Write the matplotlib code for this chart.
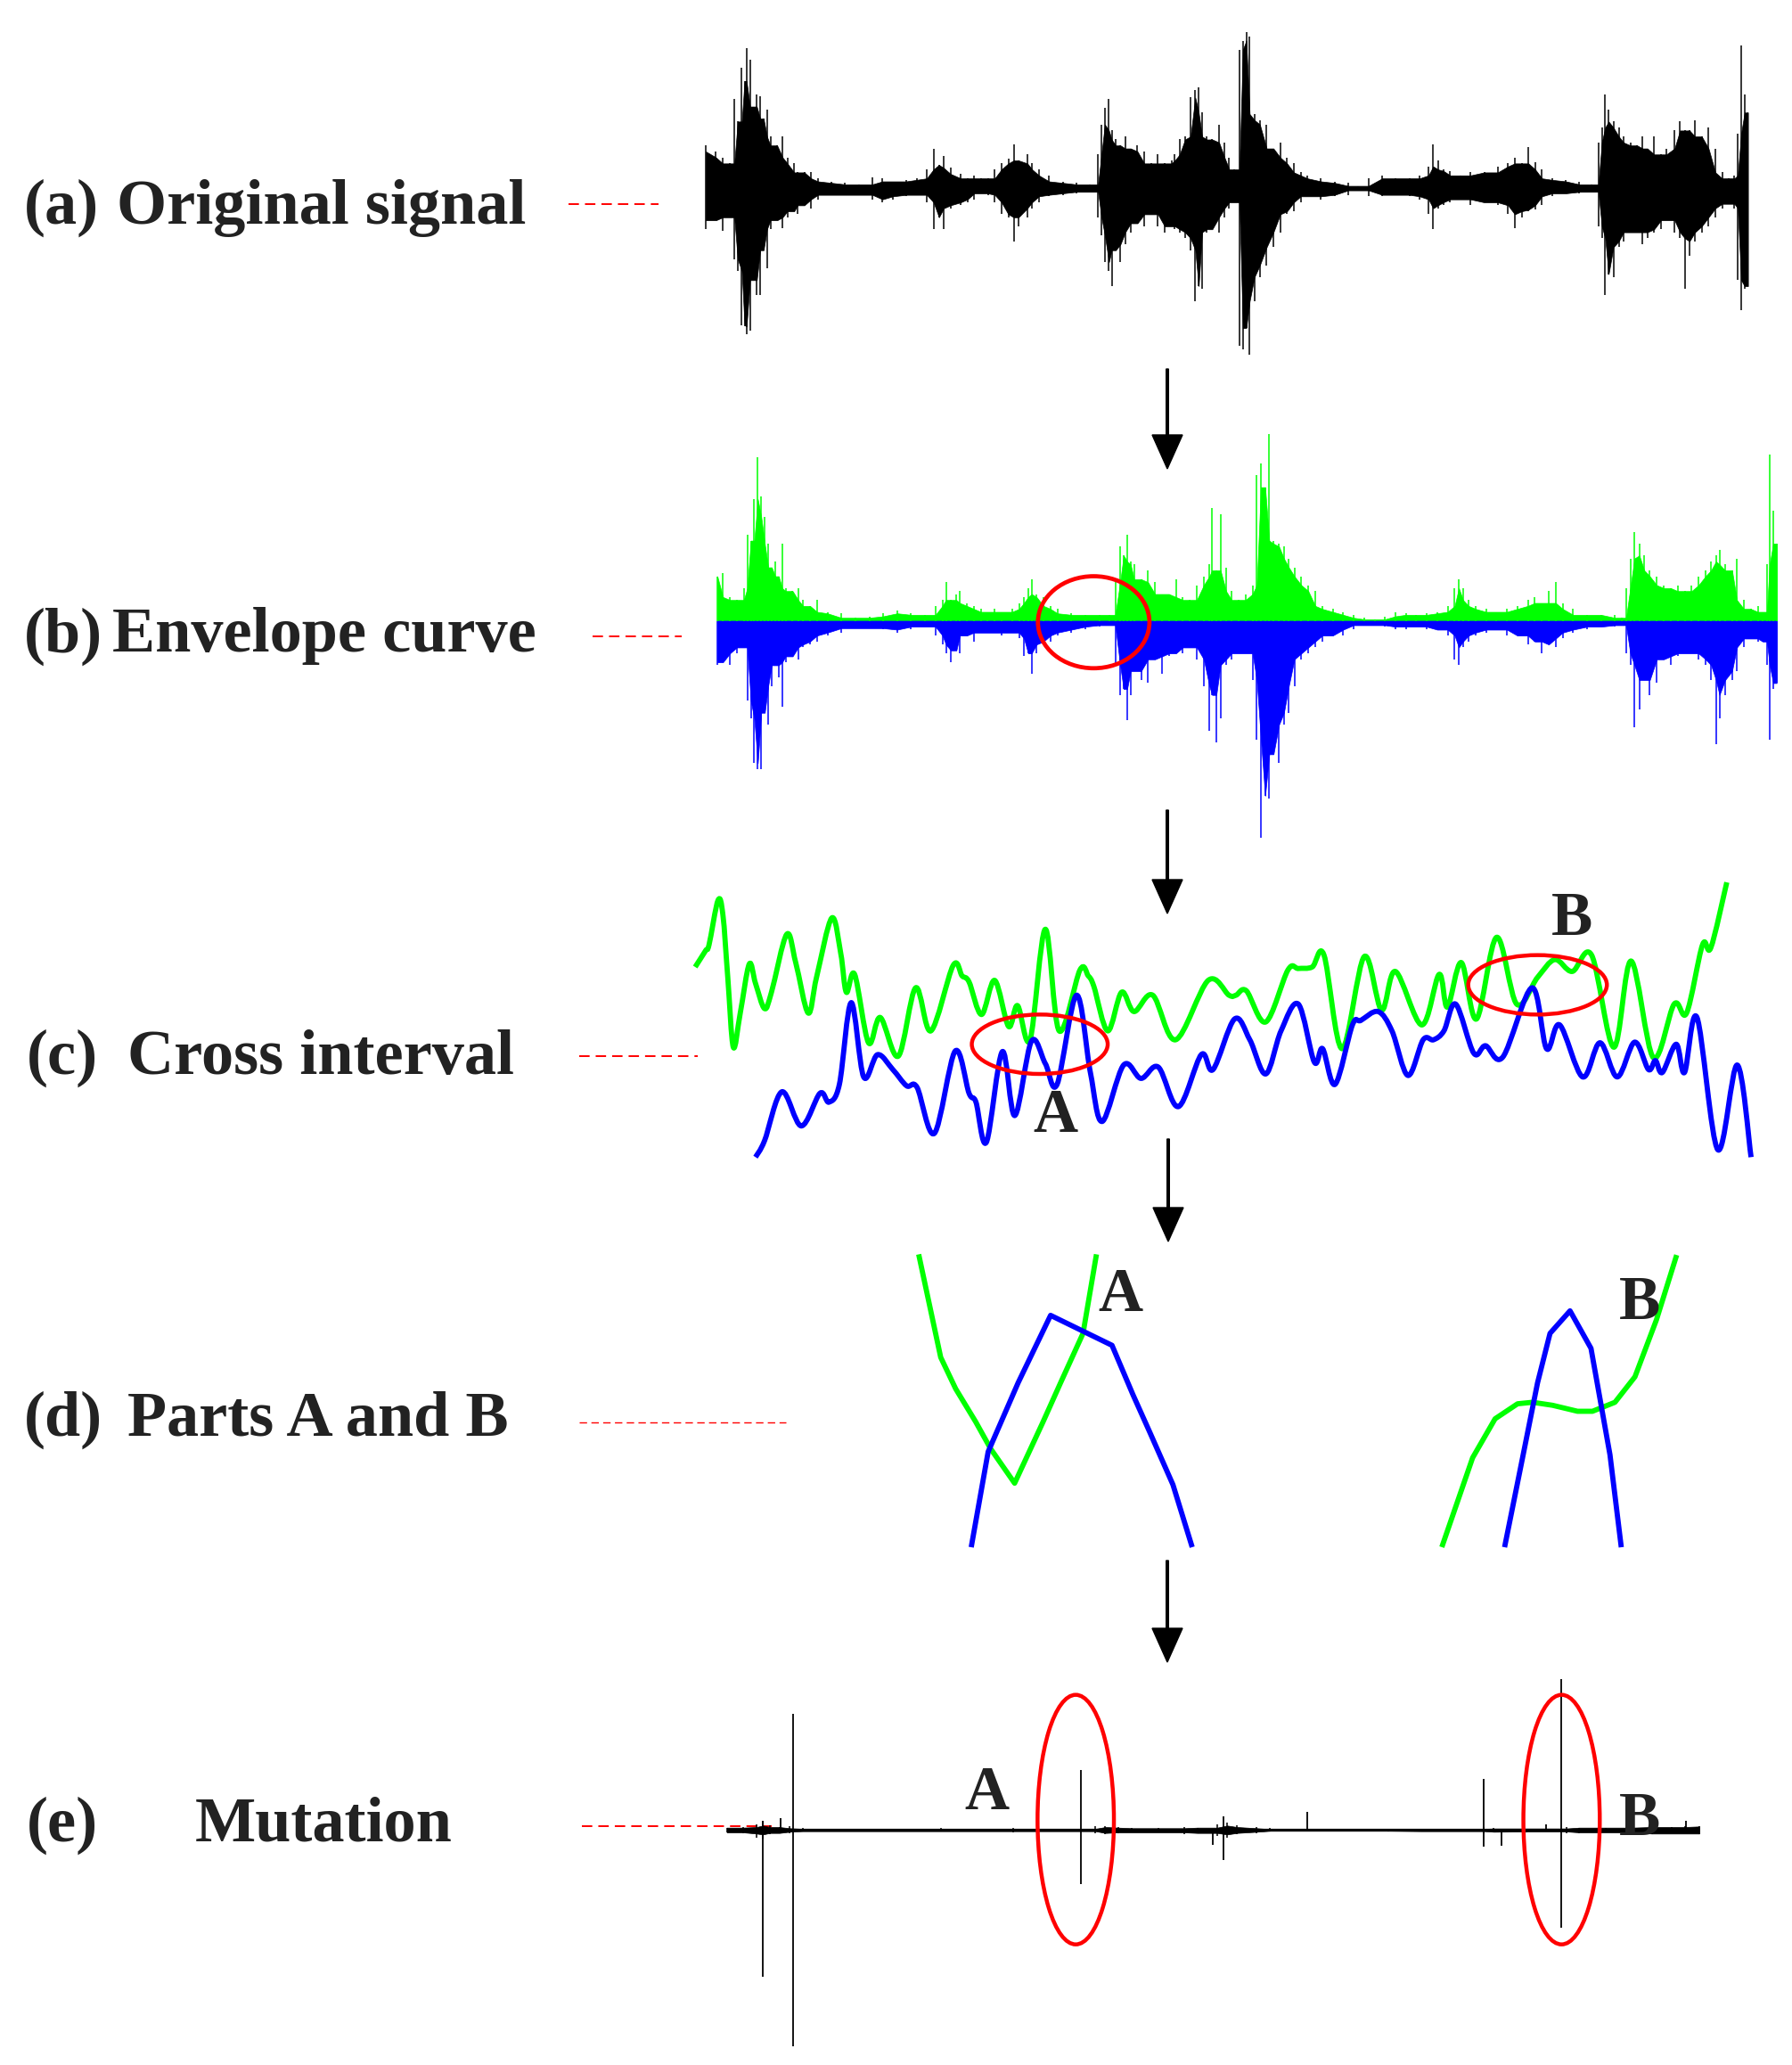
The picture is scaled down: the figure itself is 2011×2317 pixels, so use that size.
import numpy as np
import matplotlib
matplotlib.use("Agg")
import matplotlib.pyplot as plt
from matplotlib.patches import Ellipse, PathPatch
from matplotlib.path import Path

W, H = 2011, 2317
GREEN, BLUE, RED, INK = "#00ff00", "#0000ff", "#ff0000", "#222222"
SERIF = ["Liberation Serif", "DejaVu Serif"]

# ---------------- values ----------------
# (a) original signal: time index, upper / lower extent of the trace (a.u.)
sig_t = [15, 30, 40, 50, 57, 62, 68, 72, 75, 80, 85, 90, 95, 100, 105, 110, 120, 128, 135, 145,
         150, 160, 170, 180, 200, 220, 240, 260, 275, 290, 310, 325, 340, 350, 358, 365, 375, 390,
         400, 410, 420, 430, 440, 450, 460, 468, 475, 488, 495, 505, 520, 540, 560, 580, 592, 597,
         602, 608, 612, 618, 625, 632, 640, 650, 660, 670, 680, 690, 700, 705, 712, 720, 728, 735,
         740, 745, 752, 760, 770, 778, 785, 792, 800, 805, 810, 815, 822, 830, 840, 850, 860, 870,
         880, 890, 900, 920, 940, 960, 975, 990, 1010, 1030, 1050, 1065, 1078, 1085, 1092, 1100,
         1110, 1125, 1140, 1160, 1180, 1195, 1205, 1215, 1225, 1235, 1245, 1260, 1280, 1300, 1318,
         1328, 1333, 1338, 1343, 1350, 1358, 1365, 1375, 1385, 1393, 1400, 1410, 1420, 1428, 1440,
         1448, 1455, 1462, 1470, 1480, 1490, 1500, 1510, 1520, 1528, 1533, 1538, 1543, 1548]
sig_hi = [145, 125, 105, 85, 300, 225, 405, 360, 470, 430, 275, 315, 310, 235, 265, 175, 145, 175,
          105, 85, 55, 55, 55, 35, 25, 20, 15, 37, 35, 25, 30, 35, 65, 135, 80, 110, 70, 50, 35, 45,
          35, 35, 65, 85, 100, 150, 95, 115, 85, 65, 45, 25, 20, 15, 115, 215, 270, 300, 195, 165,
          145, 175, 135, 145, 125, 85, 115, 85, 95, 115, 165, 175, 305, 330, 340, 255, 175, 165, 215,
          155, 105, 65, 465, 495, 525, 510, 250, 230, 215, 135, 155, 105, 85, 55, 45, 35, 25, 20, 10,
          35, 45, 35, 35, 45, 75, 150, 95, 65, 60, 45, 55, 55, 75, 85, 105, 85, 140, 90, 65, 35, 30,
          25, 15, 155, 205, 315, 265, 225, 205, 175, 155, 145, 175, 135, 175, 115, 135, 195, 225, 195,
          195, 230, 175, 205, 135, 55, 35, 45, 185, 480, 315, 255]
sig_lo = [-135, -105, -140, -95, -235, -275, -455, -460, -485, -475, -305, -355, -355, -205, -265,
          -135, -105, -130, -95, -75, -85, -55, -65, -35, -20, -20, -20, -35, -45, -35, -25, -20, -45,
          -135, -95, -135, -65, -55, -45, -35, -15, -20, -45, -85, -95, -175, -125, -95, -65, -45, -25,
          -20, -15, -10, -95, -155, -245, -275, -325, -205, -245, -185, -145, -115, -125, -85, -125,
          -145, -125, -135, -145, -165, -205, -375, -325, -335, -145, -135, -145, -95, -65, -45, -525,
          -535, -465, -555, -375, -295, -255, -195, -145, -85, -75, -45, -25, -35, -25, -20, -5, -25,
          -25, -20, -25, -35, -85, -135, -65, -55, -45, -35, -55, -45, -55, -85, -130, -95, -75, -70,
          -55, -25, -15, -15, -10, -125, -165, -355, -285, -295, -195, -175, -145, -145, -185, -165,
          -145, -135, -105, -145, -165, -335, -225, -175, -145, -125, -95, -65, -50, -65, -305, -405,
          -335, -325]

# (b) envelope curves: upper (green) and lower (blue) envelope
env_t = [32, 40, 50, 60, 70, 75, 80, 85, 90, 95, 100, 105, 110, 115, 120, 125, 130, 140, 148, 155,
         165, 175, 190, 210, 230, 250, 270, 290, 310, 330, 345, 355, 360, 367, 375, 380, 390, 400,
         410, 420, 430, 440, 455, 465, 472, 478, 483, 490, 500, 510, 520, 540, 560, 580, 595, 603,
         610, 615, 620, 625, 630, 640, 650, 660, 670, 680, 690, 700, 710, 720, 730, 738, 742, 748,
         754, 762, 770, 780, 790, 800, 806, 812, 818, 824, 830, 838, 845, 852, 860, 870, 880, 890,
         900, 915, 930, 945, 960, 975, 990, 1005, 1020, 1035, 1050, 1065, 1080, 1090, 1096, 1102,
         1110, 1120, 1135, 1150, 1165, 1180, 1195, 1205, 1215, 1225, 1235, 1245, 1260, 1280, 1300,
         1320, 1330, 1336, 1342, 1348, 1355, 1362, 1370, 1380, 1390, 1400, 1410, 1420, 1430, 1440,
         1450, 1458, 1465, 1470, 1478, 1488, 1495, 1505, 1515, 1525, 1532, 1538, 1542, 1547, 1552]
env_upper = [150, 160, 80, 70, 110, 290, 270, 410, 550, 420, 350, 260, 180, 200, 150, 260, 110, 100,
             110, 70, 50, 70, 30, 25, 10, 15, 25, 35, 25, 20, 50, 70, 130, 70, 90, 100, 60, 50, 40,
             30, 40, 30, 40, 60, 80, 110, 140, 90, 80, 50, 40, 25, 20, 20, 20, 130, 250, 220, 290,
             200, 190, 140, 170, 130, 90, 90, 140, 80, 70, 120, 150, 190, 380, 170, 360, 180, 100,
             70, 90, 120, 490, 530, 450, 630, 270, 260, 250, 210, 180, 150, 120, 100, 50, 40, 30, 20,
             10, 5, 15, 30, 25, 20, 25, 30, 50, 110, 140, 110, 70, 50, 40, 30, 40, 50, 70, 80, 60,
             100, 130, 60, 40, 20, 20, 20, 10, 110, 210, 300, 260, 220, 170, 150, 120, 110, 120, 100,
             120, 150, 170, 200, 220, 240, 190, 170, 210, 70, 40, 50, 30, 190, 560, 370, 260]
env_lower = [-150, -140, -150, -110, -90, -270, -330, -480, -500, -500, -310, -350, -220, -150, -190,
             -290, -140, -120, -130, -90, -80, -70, -50, -40, -25, -25, -30, -40, -30, -20, -50, -80,
             -110, -140, -100, -110, -50, -70, -40, -40, -40, -50, -40, -60, -120, -110, -180, -110,
             -80, -70, -50, -40, -30, -20, -15, -150, -250, -230, -335, -250, -170, -200, -210, -130,
             -180, -120, -110, -110, -90, -130, -220, -370, -250, -410, -330, -150, -130, -110, -110,
             -200, -400, -730, -590, -600, -450, -480, -350, -310, -220, -130, -110, -90, -70, -50,
             -50, -30, -15, -15, -20, -30, -30, -20, -30, -30, -50, -130, -150, -90, -70, -50, -40,
             -30, -50, -50, -80, -70, -110, -80, -90, -60, -40, -30, -20, -20, -15, -110, -150, -360,
             -300, -200, -250, -210, -130, -150, -120, -110, -110, -130, -150, -200, -415, -330, -250,
             -200, -170, -90, -60, -70, -70, -150, -400, -230, -210]

# (c) cross interval: smoothed envelopes
cross_green_t = [25, 40, 45, 58, 65, 72, 80, 90, 103, 112, 125, 135, 157, 170, 188, 200, 222, 235,
                 243, 255, 275, 292, 318, 343, 365, 397, 410, 420, 438, 457, 477, 490, 508, 530, 550,
                 580, 592, 600, 620, 640, 658, 685, 718, 765, 795, 805, 820, 848, 880, 895, 915, 932,
                 958, 990, 1015, 1035, 1073, 1098, 1110, 1130, 1152, 1181, 1210, 1240, 1265, 1290,
                 1318, 1350, 1375, 1407, 1437, 1455, 1478, 1490, 1513]
cross_green = [705, 760, 780, 930, 880, 670, 435, 550, 715, 650, 565, 620, 815, 720, 550, 670, 870,
               750, 620, 680, 450, 535, 405, 635, 490, 710, 675, 655, 545, 660, 505, 575, 460, 832,
               490, 695, 675, 640, 490, 620, 555, 610, 460, 660, 610, 610, 625, 520, 695, 700, 705,
               745, 430, 740, 560, 690, 510, 680, 570, 720, 530, 805, 580, 670, 730, 690, 745, 435,
               725, 400, 580, 550, 780, 770, 990]
cross_blue_t = [112, 125, 150, 178, 205, 218, 233, 250, 268, 288, 310, 330, 345, 370, 400, 420, 430,
                445, 468, 486, 510, 530, 547, 575, 595, 612, 643, 668, 693, 722, 755, 772, 803, 825,
                848, 870, 895, 918, 930, 948, 973, 985, 1010, 1030, 1053, 1075, 1090, 1105, 1122,
                1148, 1165, 1190, 1232, 1253, 1272, 1305, 1330, 1355, 1380, 1400, 1410, 1420, 1440,
                1452, 1470, 1500, 1528, 1548]
cross_blue = [65, 120, 285, 170, 280, 250, 310, 585, 335, 410, 360, 305, 300, 145, 422, 280, 250, 115,
              420, 205, 455, 380, 310, 610, 350, 185, 375, 330, 368, 235, 410, 360, 530, 460, 345,
              490, 580, 385, 430, 310, 510, 525, 555, 490, 340, 460, 460, 490, 580, 415, 440, 402,
              635, 430, 510, 335, 450, 335, 452, 360, 390, 350, 445, 350, 535, 90, 375, 65]

# (d) parts A and B
partA_green_t = [92, 135, 165, 205, 235, 283, 340, 375, 420, 446]
partA_green = [1010, 675, 570, 460, 370, 255, 460, 590, 755, 1010]
partA_blue_t = [197, 230, 290, 355, 478, 520, 555, 600, 637]
partA_blue = [50, 360, 590, 815, 715, 550, 420, 250, 50]
partB_green_t = [1140, 1200, 1245, 1290, 1320, 1360, 1410, 1440, 1485, 1525, 1568, 1607]
partB_green = [50, 340, 470, 520, 525, 515, 495, 495, 525, 610, 800, 1008]
partB_blue_t = [1265, 1300, 1330, 1355, 1395, 1437, 1475, 1497]
partB_blue = [50, 340, 590, 755, 830, 705, 350, 50]

# (e) mutation: background noise band and isolated spikes
mut_t = [45, 70, 90, 100, 110, 125, 140, 160, 200, 300, 370, 400, 480, 500, 550, 590, 605, 620, 640,
         660, 700, 740, 760, 790, 805, 820, 850, 870, 900, 1000, 1050, 1100, 1180, 1195, 1210, 1260,
         1300, 1320, 1340, 1380, 1420, 1450, 1480, 1500, 1522]
mut_hi = [8, 10, 20, 30, 15, 10, 12, 6, 4, 4, 6, 4, 8, 5, 4, 4, 12, 14, 10, 8, 6, 10, 8, 20, 25, 15,
          10, 6, 3, 3, 5, 4, 4, 10, 6, 5, 5, 10, 8, 8, 12, 15, 10, 12, 14]
mut_lo = [-8, -12, -25, -30, -15, -10, -12, -6, -4, -4, -6, -4, -8, -5, -4, -4, -12, -15, -10, -8,
          -8, -14, -10, -20, -25, -15, -10, -6, -3, -3, -5, -4, -4, -10, -6, -8, -5, -12, -10, -8,
          -14, -15, -12, -12, -14]
spike_t = [100, 127, 146, 583, 783, 800, 926, 1195, 1222, 1290, 1313, 1502]
spike_hi = [32, 40, 392, 202, 0, 45, 60, 172, 0, 20, 508, 30]
spike_lo = [-495, -5, -728, -182, -50, -100, 0, -56, -52, 0, -330, 0]

# panel captions
tags = ["(a)", "(b)", "(c)", "(d)", "(e)"]
names = ["Original signal", "Envelope curve", "Cross interval", "Parts A and B", "Mutation"]

# ---------------- figure ----------------
fig = plt.figure(figsize=(W / 100, H / 100), dpi=100)
fig.patch.set_facecolor("white")

ov = fig.add_axes([0, 0, 1, 1])
ov.set_xlim(0, W)
ov.set_ylim(H, 0)
ov.axis("off")


def panel(left, top, width, height, xlim, ylim):
    ax = fig.add_axes([left / W, 1 - (top + height) / H, width / W, height / H])
    ax.set_xlim(*xlim)
    ax.set_ylim(*ylim)
    ax.axis("off")
    ax.patch.set_alpha(0)
    return ax


def _neighbour_min(v):
    v = np.asarray(v, float)
    pad = np.concatenate([v[:1], v, v[-1:]])
    return np.minimum(np.minimum(pad[:-2], pad[1:-1]), pad[2:])


def dense_trace(ax, t, lo, hi, color):
    # solid core plus thin min/max strokes, like a dense waveform rendering
    core_hi = _neighbour_min(hi)
    core_lo = -_neighbour_min(-np.asarray(lo, float))
    ax.fill_between(t, core_lo, core_hi, color=color, lw=0.5)
    ax.vlines(t, lo, hi, color=color, lw=1.1)


def smooth_line(ax, xs, ys, color, lw):
    # Catmull-Rom style bezier drawn through the read points
    p = np.column_stack([xs, ys]).astype(float)
    ext = np.vstack([p[0], p, p[-1]])
    verts, codes = [p[0]], [Path.MOVETO]
    for i in range(1, len(ext) - 2):
        p0, p1, p2, p3 = ext[i - 1], ext[i], ext[i + 1], ext[i + 2]
        verts += [p1 + (p2 - p0) / 6, p2 - (p3 - p1) / 6, p2]
        codes += [Path.CURVE4] * 3
    ax.add_patch(PathPatch(Path(verts, codes), fill=False, ec=color, lw=lw,
                           joinstyle="round", capstyle="butt"))


def ring(ax, xy, w, h, lw=3.2):
    ax.add_patch(Ellipse(xy, w, h, fill=False, ec=RED, lw=lw, zorder=5))


def letter(ax, x, y, s):
    ax.text(x, y, s, fontsize=50, fontweight="bold", family=SERIF, color=INK,
            ha="center", va="center", zorder=6)


# (a)
ax_a = panel(780.6, 10.4, 1181, 403, (0, 1548), (-600, 600))
dense_trace(ax_a, sig_t, sig_lo, sig_hi, "black")

# (b)
ax_b = panel(780, 463.4, 1220, 499.5, (0, 1560), (-800, 700))
zeros = np.zeros(len(env_t))
dense_trace(ax_b, env_t, zeros, env_upper, GREEN)
dense_trace(ax_b, env_t, env_lower, zeros, BLUE)
ring(ax_b, (572, -5), 160, 310, lw=3.4)

# (c)
ax_c = panel(760.7, 970, 1213.7, 350, (0, 1560), (0, 1050))
smooth_line(ax_c, cross_green_t, cross_green, GREEN, 4.2)
smooth_line(ax_c, cross_blue_t, cross_blue, BLUE, 4.2)
ring(ax_c, (522, 445), 196, 200)
ring(ax_c, (1240, 645), 200, 200)
letter(ax_c, 545, 200, "A")
letter(ax_c, 1290, 865, "B")

# (d)
ax_d = panel(980, 1380, 908, 370, (0, 1620), (0, 1100))
for t, v, c in [(partA_green_t, partA_green, GREEN), (partA_blue_t, partA_blue, BLUE),
                (partB_green_t, partB_green, GREEN), (partB_blue_t, partB_blue, BLUE)]:
    ax_d.plot(t, v, color=c, lw=4.2, solid_joinstyle="round")
letter(ax_d, 495, 880, "A")
letter(ax_d, 1534, 853, "B")

# (e)
ax_e = panel(782.4, 1860, 1152.5, 450, (0, 1560), (-770, 580))
ax_e.hlines(0, mut_t[0], mut_t[-1], color="black", lw=1.6)
dense_trace(ax_e, mut_t, mut_lo, mut_hi, "black")
ax_e.vlines(spike_t, spike_lo, spike_hi, color="black", lw=1.3)
ring(ax_e, (575, 35), 116, 840)
ring(ax_e, (1313, 35), 116, 840)
letter(ax_e, 440, 120, "A")
letter(ax_e, 1432, 35, "B")

# captions, red leader dashes and flow arrows
tag_x = [27, 27, 30, 27, 30]
name_x = [131, 126, 143, 143, 219]
row_y = [233, 714, 1187, 1593, 2048]
dash_x = [(638, 739), (665, 765), (650, 783), (650, 882), (653, 866)]
dash_y = [229, 714, 1185, 1596, 2049]
for i in range(5):
    ov.text(tag_x[i], row_y[i], tags[i], fontsize=52, fontweight="bold", family=SERIF,
            color=INK, ha="left", va="center")
    ov.text(name_x[i], row_y[i], names[i], fontsize=52, fontweight="bold", family=SERIF,
            color=INK, ha="left", va="center")
    ov.plot(dash_x[i], [dash_y[i]] * 2, color=RED, lw=1.4 if i != 3 else 1.0,
            dashes=(6, 3.5))

arrow_x = [1310, 1310, 1311, 1310]
arrow_y = [(414, 526), (909, 1025), (1278, 1393), (1751, 1865)]
for x, (y0, y1) in zip(arrow_x, arrow_y):
    ov.arrow(x, y0, 0, y1 - y0, width=2.6, head_width=34, head_length=38,
             length_includes_head=True, fc="black", ec="black")

fig.savefig("out.png", dpi=100, facecolor="white")
